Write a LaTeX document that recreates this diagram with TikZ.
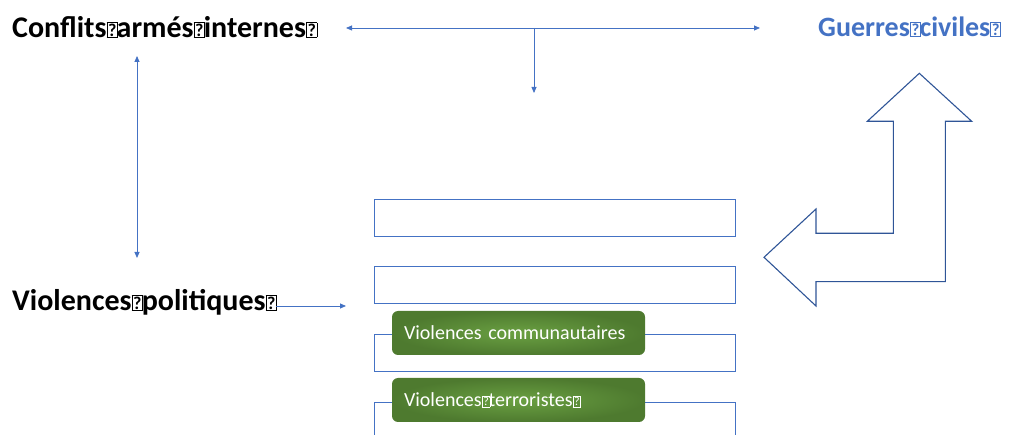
\documentclass[tikz,border=0pt]{standalone}
\usepackage{fontspec}
\setmainfont{Carlito}
\usetikzlibrary{arrows.meta,positioning}
\definecolor{linkblue}{HTML}{4472C4}
\definecolor{shapeblue}{HTML}{2F5597}
\definecolor{greenlight}{HTML}{6AA042}
\definecolor{greendark}{HTML}{4E7A2F}
% box printed in place of a missing glyph
\newcommand{\nog}{\makebox[0.34em][l]{\fboxsep=0.7pt\fboxrule=0.8pt\raisebox{0.03em}{\fbox{\scalebox{0.6}{?}}}}}

\begin{document}
\begin{tikzpicture}[x=1pt,y=-1pt,
  title/.style={font=\bfseries\fontsize{30}{34}\selectfont,inner sep=0pt,anchor=west},
  catbox/.style={draw=linkblue,line width=0.9pt,minimum width=361pt,minimum height=37pt,inner sep=0pt},
  tagbox/.style={rounded corners=6pt,inner color=greenlight,outer color=greendark,text=white,
    minimum height=44pt,text width=229pt,inner xsep=12pt,align=left,font=\fontsize{20}{24}\selectfont},
  link/.style={linkblue,line width=0.8pt},
  arrow/.style={-{Triangle[length=6pt,width=5pt]}},
  twoarrow/.style={{Triangle[length=6pt,width=5pt]}-{Triangle[length=6pt,width=5pt]}}]
  \useasboundingbox (0,0) rectangle (1018,435);
  \node[title] (conflits) at (12,27) {Conflits\nog armés\nog internes\nog};
  \node[title,text=linkblue,font=\bfseries\fontsize{28}{32}\selectfont] (guerres) at (818,27) {Guerres\nog civiles\nog};
  \node[title] (violences) at (12,302) {Violences\nog politiques\nog};
  % categories
  \node[catbox] (cat1) at (554.5,217.5) {};
  \node[catbox,below=30pt of cat1] (cat2) {};
  \node[catbox,below=30pt of cat2] (cat3) {};
  \node[catbox,below=30pt of cat3] (cat4) {};
  \node[tagbox] (tag1) at (518.5,333) {Violences communautaires};
  \node[tagbox] (tag2) at (518.5,400) {Violences\nog terroristes\nog};
  % connectors
  \coordinate (hleft) at (346,28);
  \coordinate (hright) at (760,28);
  \coordinate (hmid) at (534,28);
  \coordinate (hdown) at (534,93);
  \coordinate (vtop) at (137,56);
  \coordinate (vbot) at (137,258);
  \coordinate (pol) at (346,306);
  \draw[link,twoarrow] (hleft) -- (hright);
  \draw[link,arrow] (hmid) -- (hdown);
  \draw[link,twoarrow] (vtop) -- (vbot);
  \draw[link,arrow] (violences.east |- pol) -- (pol);
  % bent arrow
  \draw[shapeblue,line width=1.1pt,line join=miter]
    (919.3,73.3) -- (971.7,121.3) -- (945.3,121.3) -- (945.3,281.7) -- (816,281.7)
    -- (816,306) -- (764,257.3) -- (816,209) -- (816,233.3) -- (893.3,233.3)
    -- (893.3,121.3) -- (867.3,121.3) -- cycle;
\end{tikzpicture}
\end{document}
